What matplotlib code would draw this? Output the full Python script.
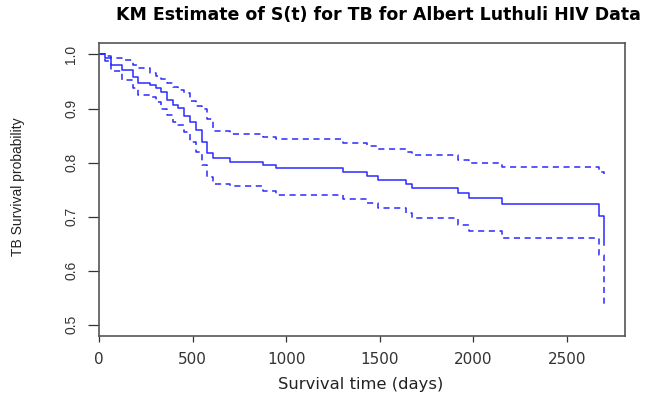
import numpy as np
import matplotlib
matplotlib.use("Agg")
import matplotlib.pyplot as plt

plt.rcParams['font.family'] = ['Liberation Sans', 'DejaVu Sans']

# KM estimate (time in days)
time = [0, 32, 62, 121, 180, 210, 272, 302, 331, 361, 393, 424, 456, 486, 518,
        548, 575, 607, 700, 878, 944, 1305, 1430, 1489, 1638, 1670, 1916, 1976,
        2154, 2671, 2699]
surv = [1.0, 0.993, 0.981, 0.972, 0.959, 0.948, 0.944, 0.938, 0.930, 0.916, 0.907,
        0.901, 0.887, 0.876, 0.861, 0.839, 0.817, 0.808, 0.802, 0.796, 0.790,
        0.783, 0.775, 0.768, 0.761, 0.753, 0.744, 0.734, 0.723, 0.701, 0.648]
upper = [1.0, 0.997, 0.993, 0.990, 0.981, 0.975, 0.966, 0.961, 0.955, 0.948, 0.939,
         0.935, 0.928, 0.914, 0.905, 0.899, 0.880, 0.859, 0.853, 0.847, 0.844,
         0.837, 0.831, 0.825, 0.820, 0.814, 0.805, 0.799, 0.792, 0.782, 0.779]
lower = [1.0, 0.987, 0.969, 0.953, 0.938, 0.925, 0.921, 0.913, 0.900, 0.888, 0.876,
         0.870, 0.857, 0.839, 0.820, 0.796, 0.774, 0.761, 0.756, 0.748, 0.740,
         0.732, 0.725, 0.716, 0.706, 0.697, 0.685, 0.673, 0.660, 0.629, 0.533]

xticks = [0, 500, 1000, 1500, 2000, 2500]
yticks = [0.5, 0.6, 0.7, 0.8, 0.9, 1.0]

fig = plt.figure(figsize=(6.53, 4.03), dpi=100)
ax = fig.add_axes([0.1516, 0.166, 0.8054, 0.727])

col = '#2a2aff'
ax.plot(time, surv, drawstyle='steps-post', color=col, lw=1.1)
ax.plot(time, upper, drawstyle='steps-post', color=col, lw=1.1, dashes=(4, 3))
ax.plot(time, lower, drawstyle='steps-post', color=col, lw=1.1, dashes=(4, 3))

ax.set_xlim(0, 2810)
ax.set_ylim(0.479, 1.021)
ax.set_xticks(xticks)
ax.set_xticklabels([str(v) for v in xticks], family=['DejaVu Sans'], fontsize=11)
ax.set_yticks(yticks)
ax.set_yticklabels(['%.1f' % v for v in yticks], rotation=90, va='center', fontsize=10)
ax.tick_params(axis='x', direction='out', length=4.3, width=0.9, colors='#333333', pad=7)
ax.tick_params(axis='y', direction='out', length=8, width=0.9, colors='#333333', pad=7)
for s in ax.spines.values():
    s.set_color('#555555')
    s.set_linewidth(1.2)

fig.text(0.579, 0.962, "KM Estimate of S(t) for TB for Albert Luthuli HIV Data",
         ha='center', va='center', fontsize=12.5, fontweight='bold', family=['DejaVu Sans'])
fig.text(0.552, 0.045, "Survival time (days)", ha='center', va='center', fontsize=11.8,
         color='#222222', family=['DejaVu Sans'])
fig.text(0.027, 0.537, "TB Survival probability", ha='center', va='center', rotation=90,
         fontsize=10, color='#222222')

fig.savefig("out.png", dpi=100)
